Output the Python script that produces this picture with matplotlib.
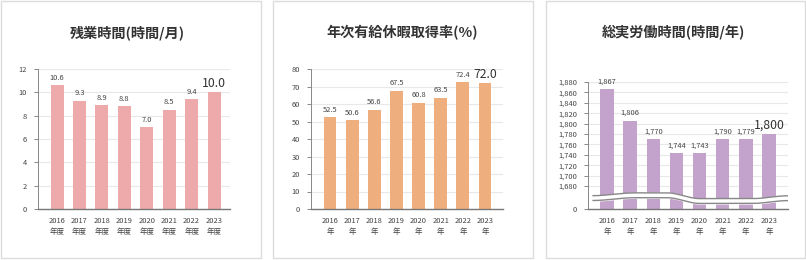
import numpy as np
import matplotlib
matplotlib.use("Agg")
import matplotlib.pyplot as plt
from matplotlib.patches import Rectangle

plt.rcParams["font.family"] = ["Noto Sans CJK JP", "DejaVu Sans"]

years = ["2016", "2017", "2018", "2019", "2020", "2021", "2022", "2023"]

overtime = [10.6, 9.3, 8.9, 8.8, 7.0, 8.5, 9.4, 10.0]
overtime_labels = ["10.6", "9.3", "8.9", "8.8", "7.0", "8.5", "9.4", "10.0"]

leave_rate = [52.5, 50.6, 56.6, 67.5, 60.8, 63.5, 72.4, 72.0]
leave_labels = ["52.5", "50.6", "56.6", "67.5", "60.8", "63.5", "72.4", "72.0"]

work_hours = [1867, 1806, 1770, 1744, 1743, 1770, 1770, 1780]
work_labels = ["1,867", "1,806", "1,770", "1,744", "1,743", "1,790", "1,779", "1,800"]

W, H = 806, 260
fig = plt.figure(figsize=(W / 100, H / 100), dpi=100)


def px_axes(left, right, top, bottom):
    return fig.add_axes([left / W, 1 - bottom / H, (right - left) / W, (bottom - top) / H])


def panel_frame(x0, x1, y0, y1):
    fig.patches.append(Rectangle((x0 / W, 1 - y1 / H), (x1 - x0) / W, (y1 - y0) / H,
                                 transform=fig.transFigure, fill=False,
                                 edgecolor="#dcdcdc", linewidth=1.0))


def draw_bars(ax, values, labels, color, suffix, xlim, yticks, ylabels=None):
    x = np.arange(len(values))
    ax.bar(x, values, width=0.58, color=color, zorder=2)
    ax.set_xlim(*xlim)
    ax.set_yticks(yticks)
    if ylabels is not None:
        ax.set_yticklabels(ylabels)
    ax.set_xticks(x)
    ax.set_xticklabels([y + "\n" + suffix for y in years], linespacing=1.45)
    ax.tick_params(axis="x", length=0, labelsize=5.4, colors="#444", pad=6)
    ax.tick_params(axis="y", length=3, width=0.7, color="#888", labelsize=5.4,
                   labelcolor="#444", pad=5)
    ax.grid(axis="y", color="#e8e8e8", linewidth=0.8, zorder=0)
    for s in ["top", "right"]:
        ax.spines[s].set_visible(False)
    ax.spines["left"].set_color("#888")
    ax.spines["left"].set_linewidth(0.7)
    ax.spines["bottom"].set_color("#777")
    ax.spines["bottom"].set_linewidth(1.0)
    for i, (v, lab) in enumerate(zip(values, labels)):
        if i == len(values) - 1:
            ax.annotate(lab, (i, v), xytext=(0, 1.5), textcoords="offset points",
                        ha="center", va="bottom", fontsize=8.8, color="#333")
        else:
            ax.annotate(lab, (i, v), xytext=(0, 2.5), textcoords="offset points",
                        ha="center", va="bottom", fontsize=5.4, color="#444")


# panel frames
panel_frame(1, 261, 1, 258)
panel_frame(273, 533, 1, 258)
panel_frame(546, 805, 1, 258)

# titles
title_kw = dict(ha="center", va="center", fontsize=10.2, color="#333", fontweight="bold")
fig.text(127 / W, 1 - 33 / H, "残業時間(時間/月)", **title_kw)
fig.text(402 / W, 1 - 33 / H, "年次有給休暇取得率(%)", **title_kw)
fig.text(674 / W, 1 - 33 / H, "総実労働時間(時間/年)", **title_kw)

# panel 1
ax1 = px_axes(38, 230, 69, 209)
draw_bars(ax1, overtime, overtime_labels, "#eea9aa", "年度", (-0.85, 7.71),
          [0, 2, 4, 6, 8, 10, 12])
ax1.set_ylim(0, 12)

# panel 2
ax2 = px_axes(311, 503, 69, 209)
draw_bars(ax2, leave_rate, leave_labels, "#efae7e", "年", (-0.86, 7.81),
          [0, 10, 20, 30, 40, 50, 60, 70, 80])
ax2.set_ylim(0, 80)

# panel 3 with broken axis
GAP = 44.0
BASE = 1680.0


def fwd(v):
    v = np.asarray(v, dtype=float)
    return np.where(v >= BASE, v - BASE + GAP, v * GAP / BASE)


def inv(d):
    d = np.asarray(d, dtype=float)
    return np.where(d >= GAP, d - GAP + BASE, d * BASE / GAP)


ax3 = px_axes(588, 788, 82, 209)
ax3.set_yscale("function", functions=(fwd, inv))
ticks3 = [0] + list(range(1680, 1881, 20))
draw_bars(ax3, work_hours, work_labels, "#c3a2cb", "年", (-0.82, 7.82),
          ticks3, ["0"] + [f"{t:,}" for t in ticks3[1:]])
ax3.set_ylim(0, 1880)

# wavy break band
xs = np.linspace(-0.6, 7.82, 300)


def smooth(t):
    t = np.clip(t, 0, 1)
    return t * t * (3 - 2 * t)


upper = (0.105 + 0.022 * smooth((xs + 0.6) / 1.8)
         - 0.045 * smooth((xs - 2.6) / 1.4)
         + 0.022 * smooth((xs - 6.3) / 1.5))
lower = upper - 0.038
tr = ax3.get_xaxis_transform()
ax3.fill_between(xs, lower, upper, transform=tr, color="white", zorder=3)
ax3.plot(xs, upper, transform=tr, color="#888", linewidth=1.0, zorder=4)
ax3.plot(xs, lower, transform=tr, color="#888", linewidth=1.0, zorder=4)

fig.savefig("out.png", dpi=100, facecolor="white")
